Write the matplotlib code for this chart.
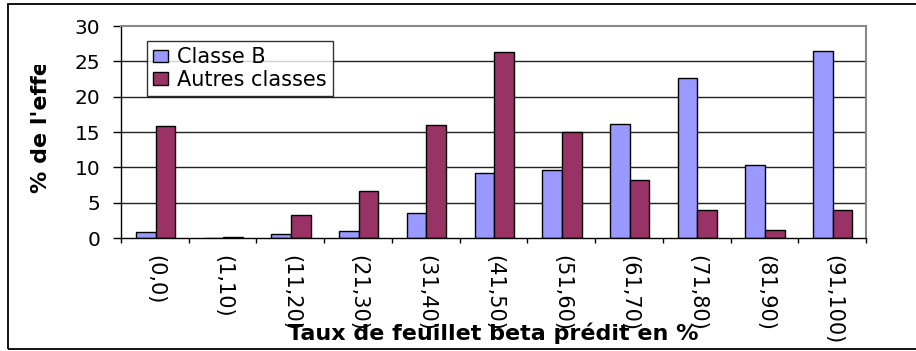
import matplotlib
matplotlib.use("Agg")
import matplotlib.pyplot as plt
import numpy as np
from matplotlib.patches import Rectangle
from matplotlib.transforms import Bbox

# Distribution of predicted beta-sheet content per class
categories = ["(0,0)", "(1,10)", "(11,20)", "(21,30)", "(31,40)", "(41,50)",
              "(51,60)", "(61,70)", "(71,80)", "(81,90)", "(91,100)"]
classe_b = [0.8, 0.0, 0.6, 1.0, 3.5, 9.2, 9.6, 16.1, 22.7, 10.4, 26.4]
autres = [15.8, 0.1, 3.2, 6.6, 16.0, 26.3, 14.95, 8.2, 3.9, 1.1, 4.0]
y_ticks = [0, 5, 10, 15, 20, 25, 30]

series_labels = ["Classe B", "Autres classes"]
colors = ["#9999FF", "#993366"]

plt.rcParams["font.family"] = ["DejaVu Sans"]

W, H = 916, 351
fig = plt.figure(figsize=(W / 100, H / 100), dpi=100)
fig.patch.set_facecolor("white")

# plot area
x0, x1, ytop, ybot = 121, 866, 26, 238
ax = fig.add_axes([x0 / W, 1 - ybot / H, (x1 - x0) / W, (ybot - ytop) / H])

n = len(categories)
centers = np.arange(n) + 0.51
bw = 0.29
ax.bar(centers - bw / 2, classe_b, width=bw, color=colors[0], edgecolor="black",
       linewidth=1.0, label=series_labels[0], zorder=2)
ax.bar(centers + bw / 2, autres, width=bw, color=colors[1], edgecolor="black",
       linewidth=1.0, label=series_labels[1], zorder=2)

ax.set_xlim(0, n)
ax.set_ylim(0, 30)

# horizontal gridlines
for v in y_ticks[1:-1]:
    ax.axhline(v, color="#222222", linewidth=1.0, zorder=0.5)

for side in ["top", "right"]:
    ax.spines[side].set_color("#888888")
    ax.spines[side].set_linewidth(1.5)
for side in ["left", "bottom"]:
    ax.spines[side].set_color("black")
    ax.spines[side].set_linewidth(1.0)

ax.set_yticks(y_ticks)
ax.set_yticklabels([str(v) for v in y_ticks])
ax.tick_params(axis="y", direction="out", length=5.8, width=1.0, pad=9,
               labelsize=14.5, colors="black")

ax.set_xticks(centers)
ax.set_xticklabels(categories, rotation=270)
ax.set_xticks(np.arange(n + 1), minor=True)
ax.tick_params(axis="x", which="major", length=0, pad=12, labelsize=15)
ax.tick_params(axis="x", which="minor", direction="out", length=3.6, width=1.0)

leg = ax.legend(loc="upper left", bbox_to_anchor=(0.035, 0.929), borderaxespad=0,
                frameon=True, fancybox=False, shadow=False, fontsize=15,
                handlelength=0.7, handleheight=0.55, handletextpad=0.45,
                labelspacing=0.12, borderpad=0.3)
leg.get_frame().set_edgecolor("black")
leg.get_frame().set_linewidth(1.0)
for p in leg.get_patches():
    p.set_edgecolor("black")
    p.set_linewidth(1.0)

# axis titles
fig.text(493 / W, (H - 340) / H, "Taux de feuillet beta prédit en %",
         ha="center", va="baseline", fontsize=16, fontweight="bold")

ylab = fig.text(51 / W, (H - 193) / H, "% de l'effectif", rotation=90,
                ha="right", va="bottom", fontsize=16, fontweight="bold")
ylab.set_clip_box(Bbox([[0, 0], [W, H - 65]]))
ylab.set_clip_on(True)

# outer chart frame
fig.add_artist(Rectangle((8 / W, 2 / H), 1.2, (H - 6) / H, transform=fig.transFigure,
                         fill=False, edgecolor="black", linewidth=1.3))

fig.savefig("out.png", dpi=100)
